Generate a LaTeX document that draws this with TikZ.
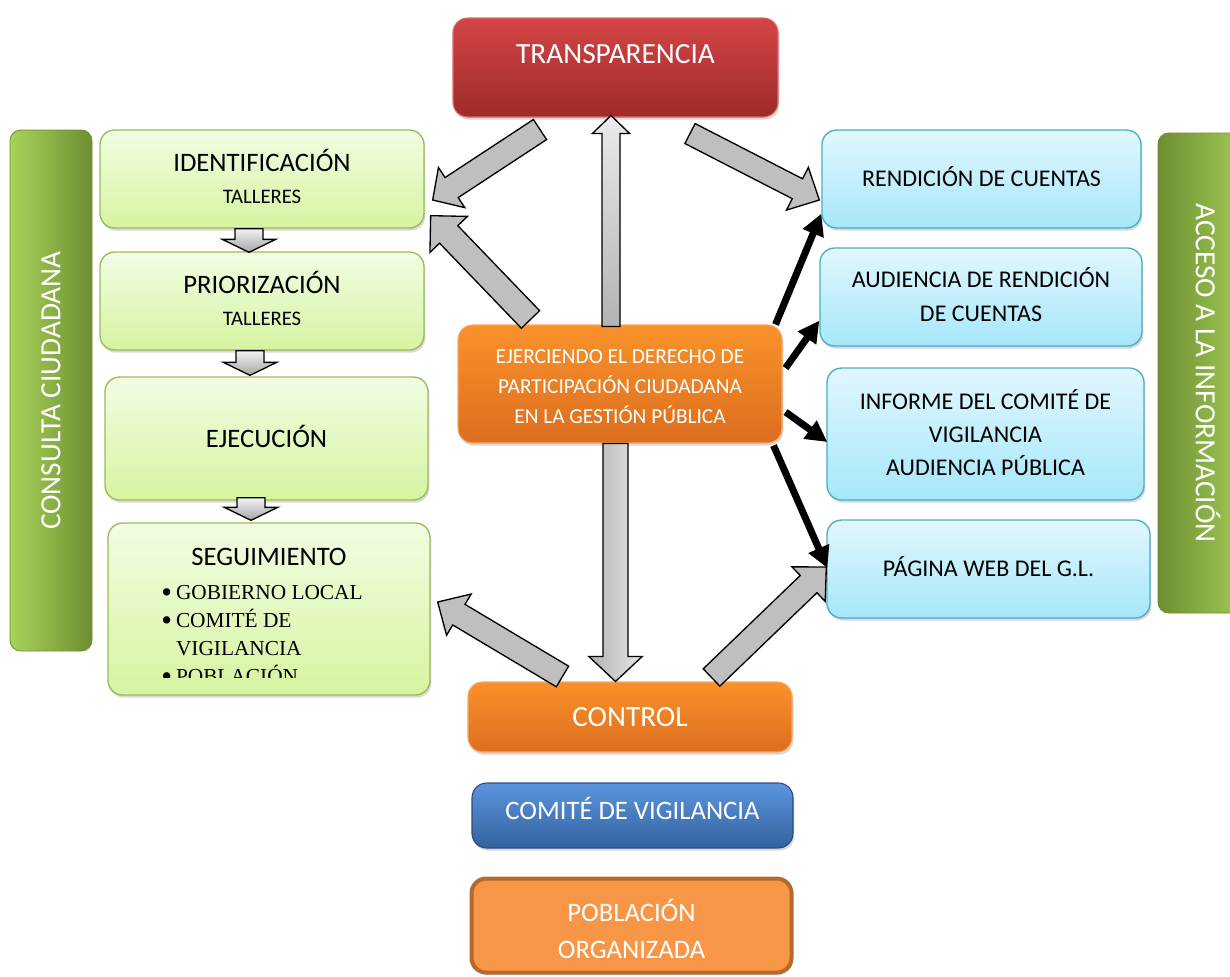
\documentclass[tikz,border=0pt]{standalone}
\usepackage{fontspec}
\setmainfont{Carlito}
\newfontfamily\listefont{Liberation Serif}
\usetikzlibrary{calc,arrows.meta,shadows}

\definecolor{vertclair}{HTML}{F2FDE3}
\definecolor{vertfonce}{HTML}{D5F4A0}
\definecolor{vertbord}{HTML}{9BBB59}
\definecolor{bleuclair}{HTML}{E1F7FD}
\definecolor{bleufonce}{HTML}{A6E7FA}
\definecolor{bleubord}{HTML}{4BACC6}
\definecolor{orclair}{HTML}{F9922B}
\definecolor{orfonce}{HTML}{DC6E1F}
\definecolor{orbord}{HTML}{F8A862}
\definecolor{rougeclair}{HTML}{D44545}
\definecolor{rougefonce}{HTML}{9E2A2A}
\definecolor{comclair}{HTML}{5B95DE}
\definecolor{comfonce}{HTML}{35629F}
\definecolor{combord}{HTML}{2C4D7B}
\definecolor{pobfond}{HTML}{F79646}
\definecolor{pobbord}{HTML}{B5692E}
\definecolor{bandeclair}{HTML}{A9D35A}
\definecolor{bandefonce}{HTML}{6E8E32}

\tikzset{
  sz/.style 2 args={minimum width=#1*0.75pt, minimum height=#2*0.75pt},
  boite/.style={rounded corners=11pt, inner sep=0pt, align=center,
    drop shadow={opacity=0.3, shadow xshift=1pt, shadow yshift=-2pt}},
  vert/.style={boite, draw=vertbord, line width=1pt, top color=vertclair,
    bottom color=vertfonce, font=\fontsize{20}{25.5}\selectfont},
  bleu/.style={boite, draw=bleubord, line width=1pt, top color=bleuclair,
    bottom color=bleufonce, font=\fontsize{18}{25.5}\selectfont},
  orbox/.style={boite, draw=orbord, line width=0.8pt, top color=orclair,
    bottom color=orfonce, text=white},
  bande/.style={rounded corners=8pt, inner sep=0pt, draw=bandefonce,
    line width=0.6pt, text=white, font=\fontsize{22}{26}\selectfont},
  grosse/.style={draw=black, line width=1pt, fill=black!25},
  montee/.style={grosse, top color=black!8, bottom color=black!30},
  descente/.style={grosse, left color=black!30, right color=black!10},
  petite/.style={grosse, top color=black!5, bottom color=black!35},
  lien/.style={line width=5.25pt, -{Triangle[length=16pt,width=16pt]}},
}

% puce de la liste
\newcommand{\puce}{\raisebox{-2.7pt}{\fontsize{23}{21}\selectfont\textbullet}}

% fleche pleine : style, depart, pointe, demi-largeur, demi-tete, longueur tete
\newcommand{\blockarrow}[6]{%
  \coordinate (ba) at (#2);
  \coordinate (bb) at (#3);
  \coordinate (bh) at ($(bb)!#6!(ba)$);
  \draw[#1] ($(ba)!#4!90:(bb)$) -- ($(bh)!#4!90:(bb)$) -- ($(bh)!#5!90:(bb)$)
    -- (bb) -- ($(bh)!#5!-90:(bb)$) -- ($(bh)!#4!-90:(bb)$)
    -- ($(ba)!#4!-90:(bb)$) -- cycle;
}

\begin{document}
\begin{tikzpicture}[x=0.75pt,y=-0.75pt]
\useasboundingbox (0,0) rectangle (1230,976);
% bandes
\node[bande, rotate=90, sz={521}{82}, left color=bandeclair, right color=bandefonce]
  (consulta) at (51,390.5) {CONSULTA CIUDADANA};
\node[bande, rotate=-90, sz={480}{100}, left color=bandefonce, right color=bandeclair]
  (acceso) at (1208,373) {ACCESO A LA INFORMACIÓN};
% centre
\node[boite, draw=rougeclair!80, line width=0.8pt, top color=rougeclair, bottom color=rougefonce,
  text=white, sz={325}{99}, font=\fontsize{22}{26}\selectfont,
  text height=14.2pt, text depth=20.2pt] (transp) at (615.5,67.5) {TRANSPARENCIA};
\node[orbox, sz={324}{118}, font=\fontsize{16}{22.5}\selectfont] (ejer) at (620,384)
  {\rule{0pt}{14.8pt}EJERCIENDO EL DERECHO DE\\PARTICIPACIÓN CIUDADANA\\EN LA GESTIÓN PÚBLICA};
\node[orbox, sz={324}{70}, font=\fontsize{22}{26}\selectfont] (control) at (630,717) {CONTROL};
\node[boite, draw=combord, line width=0.8pt, top color=comclair, bottom color=comfonce,
  text=white, sz={321}{65}, font=\fontsize{20}{24}\selectfont,
  text height=12.9pt, text depth=6.8pt] (comite) at (632.5,815.5) {COMITÉ DE VIGILANCIA};
\node[boite, draw=pobbord, line width=3pt, fill=pobfond, text=white, sz={320}{94},
  font=\fontsize{20}{27.75}\selectfont] (poblac) at (631.5,925.5)
  {\rule{0pt}{21.6pt}POBLACIÓN\\ORGANIZADA};
% gauche
\node[vert, sz={324}{98}] (ident) at (262,179)
  {IDENTIFICACIÓN\\[-2pt]{\fontsize{15.5}{25.5}\selectfont TALLERES}\rule[-4pt]{0pt}{0pt}};
\node[vert, sz={324}{98}] (prior) at (262,301)
  {PRIORIZACIÓN\\[-2pt]{\fontsize{15.5}{25.5}\selectfont TALLERES}\rule[-4pt]{0pt}{0pt}};
\node[vert, sz={323}{123}, text height=12.9pt] (ejec) at (266.5,438.5) {EJECUCIÓN};
\node[vert, sz={322}{172}] (seguim) at (269,609) {};
\node[font=\fontsize{20}{24}\selectfont] (segtitre) at (269,557) {SEGUIMIENTO};
\begin{scope}
\clip (108,523) rectangle (430,677);
\node[anchor=base west, inner sep=0pt, font=\listefont\fontsize{16}{21}\selectfont] (segliste) at (161,599)
  {\begin{tabular}[t]{@{}l@{\hspace{3pt}}l@{}}
   \puce & GOBIERNO LOCAL\\
   \puce & COMITÉ DE\\
         & VIGILANCIA\\
   \puce & POBLACIÓN
   \end{tabular}};
\end{scope}
% droite
\node[bleu, sz={319}{98}, text height=11.6pt] (rend) at (981.5,179) {RENDICIÓN DE CUENTAS};
\node[bleu, sz={322}{98}] (aud) at (981,297)
  {AUDIENCIA DE RENDICIÓN\\DE CUENTAS\rule[-4.5pt]{0pt}{0pt}};
\node[bleu, sz={317}{132}, font=\fontsize{18}{24.75}\selectfont] (inf) at (985.5,434)
  {INFORME DEL COMITÉ DE\\VIGILANCIA\\AUDIENCIA PÚBLICA\rule[-3pt]{0pt}{0pt}};
\node[bleu, sz={323}{98}, text height=11.6pt] (web) at (988.5,569) {PÁGINA WEB DEL G.L.};
% fleches pleines
\blockarrow{petite}{$(ident.south)+(-13,0)$}{$(prior.north)+(-13,1)$}{10.5pt}{20pt}{9.75pt}
\blockarrow{petite}{$(prior.south)+(-12,0)$}{$(ejec.north)+(-16.5,-1)$}{10.5pt}{20pt}{9.75pt}
\blockarrow{petite}{$(ejec.south)+(-15.5,-3)$}{$(seguim.north)+(-18,-2)$}{10.5pt}{20pt}{9.75pt}
\blockarrow{grosse}{$(transp.south)+(-75.5,12)$}{$(ident.east)+(8,21)$}{9pt}{18pt}{17pt}
\blockarrow{grosse}{$(ejer.north west)+(73,-5)$}{$(ident.south east)+(6,-13)$}{9.5pt}{19.5pt}{19.5pt}
\blockarrow{montee}{$(ejer.north)+(-9,2)$}{$(transp.south)+(-4.5,-2)$}{6.75pt}{14pt}{13.5pt}
\blockarrow{grosse}{$(transp.south)+(74.5,16)$}{$(rend.west)+(-2,21)$}{8.4pt}{18pt}{18.5pt}
\blockarrow{descente}{$(ejer.south)+(-4.5,0)$}{$(control.north)+(-14.5,0)$}{9.4pt}{20pt}{18.75pt}
\blockarrow{grosse}{$(control.north west)+(95,-5)$}{$(seguim.east)+(7,-7)$}{9pt}{18pt}{18.5pt}
\blockarrow{grosse}{$(control.north east)+(-81,-4)$}{$(web.west)+(0,-2)$}{9pt}{18pt}{18.5pt}
% fleches noires
\draw[lien] ($(ejer.north east)+(-7,0)$) -- ($(rend.south west)+(0,-15)$);
\draw[lien] ($(ejer.east)+(3,-16)$) -- ($(aud.south west)+(0,-26)$);
\draw[lien] ($(ejer.east)+(3,28)$) -- ($(inf.west)+(1,8)$);
\draw[lien] ($(ejer.south east)+(-9,2)$) -- ($(web.west)+(1,-1)$);
\end{tikzpicture}
\end{document}
